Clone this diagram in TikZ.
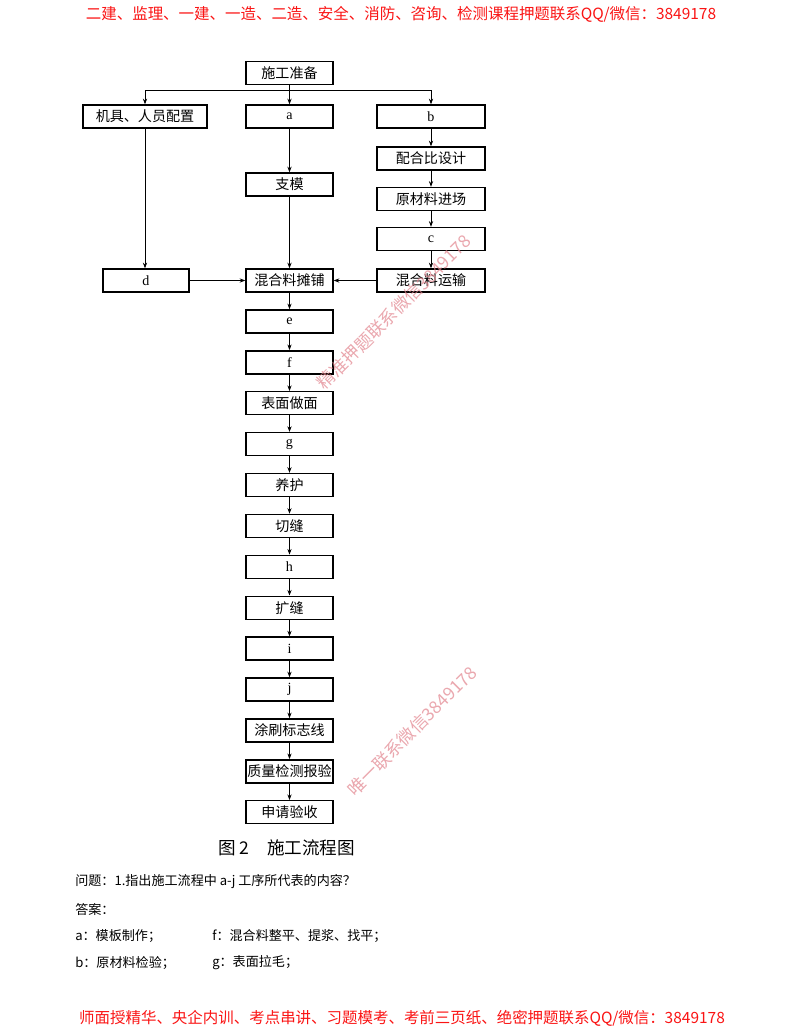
\documentclass[tikz,border=0pt]{standalone}
\usepackage{fontspec}
\setmainfont{Liberation Serif}
\newfontfamily\cjk{Noto Sans CJK SC}
\usepackage{xcolor}
\usetikzlibrary{positioning,arrows.meta}

\definecolor{headred}{RGB}{250,20,20}
\definecolor{wmpink}{RGB}{225,130,140}

\tikzset{
    box/.style={draw, line width=1pt, minimum width=2.175cm, minimum height=0.575cm,
        inner sep=1pt, font=\fontsize{10}{12}\selectfont},
    widebox/.style={box, minimum width=2.7cm},
    arr/.style={-{Stealth[length=4pt,width=3pt]}, line width=0.5pt},
    txt/.style={anchor=west, inner sep=0pt, font=\cjk\fontsize{9.3}{11}\selectfont},
    banner/.style={text=headred, font=\cjk\fontsize{11}{13}\selectfont},
    wmark/.style={text=wmpink, opacity=0.7, rotate=45, font=\cjk\fontsize{12.5}{14}\selectfont}
}

\begin{document}
\begin{tikzpicture}[x=0.025cm, y=-0.025cm]
    \useasboundingbox (0,0) rectangle (800,1035);

    % header and footer
    \node[banner] (head) at (401,14) {二建、监理、一建、一造、二造、安全、消防、咨询、检测课程押题联系QQ/微信：3849178};
    \node[banner] (foot) at (402,1018) {师面授精华、央企内训、考点串讲、习题模考、考前三页纸、绝密押题联系QQ/微信：3849178};

    % top part
    \node[box] (prep) at (289.5,73) {\cjk 施工准备};
    \node[box, minimum width=3.1cm] (jiju) at (145,116.5) {\cjk 机具、人员配置};
    \node[box] (a) at (289.5,116.5) {a};
    \node[widebox] (b) at (431,116.5) {b};
    \node[box] (zhimo) at (289.5,184.5) {\cjk 支模};
    \node[widebox] (pbsj) at (431,158.5) {\cjk 配合比设计};
    \node[widebox] (ycl) at (431,199) {\cjk 原材料进场};
    \node[widebox] (c) at (431,239) {c};
    \node[widebox] (ys) at (431,280.5) {\cjk 混合料运输};
    \node[box, minimum width=2.15cm] (d) at (146,280.5) {d};
    \node[box] (mix) at (289.5,280.5) {\cjk 混合料摊铺};

    \coordinate (bus) at (289.5,90);
    \draw[line width=0.5pt] (prep) -- (bus);
    \draw[arr] (bus) -| (jiju);
    \draw[arr] (bus) -- (a);
    \draw[arr] (bus) -| (b);
    \draw[arr] (a) -- (zhimo);
    \draw[arr] (zhimo) -- (mix);
    \draw[arr] (b) -- (pbsj);
    \draw[arr] (pbsj) -- (ycl);
    \draw[arr] (ycl) -- (c);
    \draw[arr] (c) -- (ys);
    \draw[arr] (jiju.south) -- (jiju.south |- d.north);
    \draw[arr] (d) -- (mix);
    \draw[arr] (ys) -- (mix);

    % main column
    \foreach \nm/\lbl [count=\k, remember=\nm as \prev (initially mix)] in
        {e/e, f/f, bmzm/\cjk 表面做面, g/g, yh/\cjk 养护, qf/\cjk 切缝, h/h, kf/\cjk 扩缝,
         i/i, j/j, tsbz/\cjk 涂刷标志线, zljc/\cjk 质量检测报验, sqys/\cjk 申请验收} {
        \node[box] (\nm) at (289.5,{280.5+40.9*\k}) {\lbl};
        \draw[arr] (\prev) -- (\nm);
    }

    % caption and question
    \node[anchor=west, inner sep=0pt, font=\cjk\fontsize{12.5}{14}\selectfont] (cap) at (218,848) {图 2\quad 施工流程图};
    \node[txt] (q1) at (75,882) {问题：1.指出施工流程中 a-j 工序所代表的内容？};
    \node[txt] (ans) at (75,909) {答案：};
    \node[txt] (aa) at (75,936) {a：模板制作；};
    \node[txt] (af) at (212,936) {f：混合料整平、提浆、找平；};
    \node[txt] (ab) at (75,963) {b：原材料检验；};
    \node[txt] (ag) at (212,963) {g：表面拉毛；};

    % watermarks
    \node[wmark] (wm1) at (394,312) {精准押题联系微信3849178};
    \node[wmark] (wm2) at (412,731) {唯一联系微信3849178};
\end{tikzpicture}
\end{document}
